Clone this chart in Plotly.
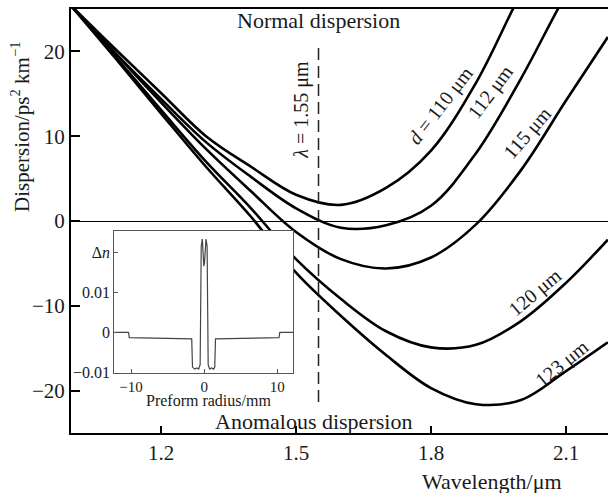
import plotly.graph_objects as go

# ---- data ----
lam_110 = [1.0, 1.1, 1.2, 1.3, 1.4, 1.5, 1.6, 1.7, 1.8, 1.9, 1.981, 2.02]
d_110 = [25.4, 20.2, 15.1, 10.0, 6.4, 3.1, 1.9, 3.9, 8.3, 16.3, 24.9, 29.0]

lam_112 = [1.0, 1.1, 1.2, 1.3, 1.4, 1.5, 1.6, 1.7, 1.8, 1.9, 2.0, 2.081, 2.12]
d_112 = [25.4, 19.7, 14.4, 9.3, 5.2, 1.5, -0.8, -0.5, 1.8, 8.0, 16.8, 24.9, 28.5]

lam_115 = [1.0, 1.1, 1.2, 1.3, 1.4, 1.5, 1.6, 1.7, 1.8, 1.9, 2.0, 2.1, 2.193]
d_115 = [25.4, 19.7, 14.0, 8.5, 3.5, -1.3, -4.5, -5.6, -4.3, -0.4, 6.0, 14.2, 21.7]

lam_120 = [1.0, 1.1, 1.2, 1.3, 1.4, 1.5, 1.6, 1.7, 1.8, 1.9, 2.0, 2.1, 2.193]
d_120 = [25.4, 19.3, 13.1, 7.0, 1.5, -4.5, -9.2, -13.0, -14.9, -14.6, -11.8, -7.3, -2.2]

lam_123 = [1.0, 1.1, 1.2, 1.3, 1.4, 1.5, 1.6, 1.7, 1.8, 1.9, 2.0, 2.1, 2.193]
d_123 = [25.4, 19.1, 12.7, 6.4, 0.5, -6.1, -11.2, -15.8, -19.7, -21.6, -21.1, -17.7, -14.3]

x_ticks = [1.2, 1.5, 1.8, 2.1]
y_ticks = [-20, -10, 0, 10, 20]

# inset refractive-index profile
r_mm = [-12.3, -10.35, -10.25, -6.0, -1.7, -1.6, -1.3, -1.0, -0.75, -0.55, -0.4, -0.25, -0.05,
        0.05, 0.25, 0.4, 0.55, 0.75, 1.0, 1.3, 1.45, 1.55, 6.0, 10.25, 10.35, 12.2]
dn = [0.0, 0.0, -0.0013, -0.0015, -0.0016, -0.0086, -0.0091, -0.0088, -0.0091, -0.0080, 0.0215, 0.0232, 0.0165,
      0.0175, 0.0232, 0.0215, -0.0080, -0.0091, -0.0088, -0.0091, -0.0086, -0.0016, -0.0015, -0.0013, 0.0, 0.0]
inset_xticks = [-10, 0, 10]
inset_yticks = [-0.01, 0, 0.01, 0.02]
inset_yticktext = ["\u22120.01", "0", "0.01", "\u0394<i>n</i>"]

lambda_ref = 1.55

FONT = "Liberation Serif"
TXT = "#1a1a1a"

fig = go.Figure()
for lx, dy in [(lam_110, d_110), (lam_112, d_112), (lam_115, d_115), (lam_120, d_120), (lam_123, d_123)]:
    fig.add_trace(go.Scatter(x=lx, y=dy, mode="lines", line=dict(color="black", width=2.6, shape="spline", smoothing=1.0),
                             showlegend=False, hoverinfo="skip"))

fig.add_trace(go.Scatter(x=[lambda_ref, lambda_ref], y=[20.4, -21.8], mode="lines",
                         line=dict(color="#222", width=1.5, dash="12px,6px"), showlegend=False, hoverinfo="skip"))

fig.add_trace(go.Scatter(x=r_mm, y=dn, mode="lines", xaxis="x2", yaxis="y2",
                         line=dict(color="#444", width=1.2), showlegend=False, hoverinfo="skip"))

L, R, T, B = 71, 0, 9, 60
W, H = 608, 493
pw, ph = W - L - R, H - T - B

def px(xp):
    return (xp - L) / pw

def py(yp):
    return (H - B - yp) / ph

fig.update_layout(
    width=W, height=H, margin=dict(l=L, r=R, t=T, b=B),
    paper_bgcolor="white", plot_bgcolor="white",
    font=dict(family=FONT, size=21, color=TXT),
    xaxis=dict(range=[1.0, 2.1933], tickvals=x_ticks, ticks="inside", ticklen=7, tickwidth=2, tickcolor="black",
               showline=True, linecolor="black", linewidth=2, mirror=True, showgrid=False, zeroline=False,
               tickfont=dict(size=21)),
    yaxis=dict(range=[-25, 25], tickvals=y_ticks, ticks="inside", ticklen=9, tickwidth=2, tickcolor="black",
               showline=True, linecolor="black", linewidth=2, showgrid=False,
               zeroline=True, zerolinecolor="black", zerolinewidth=1.2, tickfont=dict(size=21)),
    xaxis2=dict(domain=[px(114.3), px(293.3)], anchor="y2", range=[-12.3, 12.2], tickvals=inset_xticks,
                ticks="inside", ticklen=4, tickcolor="#555", showline=True, linecolor="#555", linewidth=1.2,
                mirror=True, showgrid=False, zeroline=False, tickfont=dict(size=15)),
    yaxis2=dict(domain=[py(372.7), py(230.7)], anchor="x2", range=[-0.01, 0.0253], tickvals=inset_yticks,
                ticktext=inset_yticktext, ticks="inside", ticklen=4, tickcolor="#555", showline=True,
                linecolor="#555", linewidth=1.2, mirror=True, showgrid=False, zeroline=False,
                tickfont=dict(size=16)),
)

# white background of the inset hiding the main curves
fig.add_shape(type="rect", xref="x2 domain", yref="y2 domain", x0=0, x1=1, y0=0, y1=1,
              fillcolor="white", line=dict(width=0), layer="below")

C = dict(xanchor="center", yanchor="middle", showarrow=False)
ann = []
ann.append(dict(x=1.549, y=23.6, xref="x", yref="y", text="Normal dispersion", font=dict(size=22), **C))
ann.append(dict(x=1.538, y=-23.6, xref="x", yref="y", text="Anomalous dispersion", font=dict(size=22), **C))
ann.append(dict(x=1.513, y=13.1, xref="x", yref="y", text="<i>\u03bb</i> = 1.55 \u03bcm",
                textangle=-90, font=dict(size=20), **C))
labels = [
    ("<i>d</i> = 110 \u03bcm", 441, 106, -52),
    ("112 \u03bcm", 490, 92, -53),
    ("115 \u03bcm", 527, 133, -49),
    ("120 \u03bcm", 535, 292, -40),
    ("123 \u03bcm", 562, 363, -39),
]
for t, xp, yp, ang in labels:
    ann.append(dict(x=px(xp), y=py(yp), xref="paper", yref="paper", text=t,
                    textangle=ang, font=dict(size=20), **C))
ann.append(dict(x=px(20), y=py(127), xref="paper", yref="paper",
                text="Dispersion/ps<sup>2</sup> km<sup>\u22121</sup>", textangle=-90,
                font=dict(size=21), **C))
ann.append(dict(x=px(491.5), y=py(482), xref="paper", yref="paper", text="Wavelength/\u03bcm",
                font=dict(size=22), **C))
ann.append(dict(x=px(208), y=py(400.5), xref="paper", yref="paper", text="Preform radius/mm",
                font=dict(size=16), **C))
fig.update_layout(annotations=ann)

fig.write_html("out.html")
